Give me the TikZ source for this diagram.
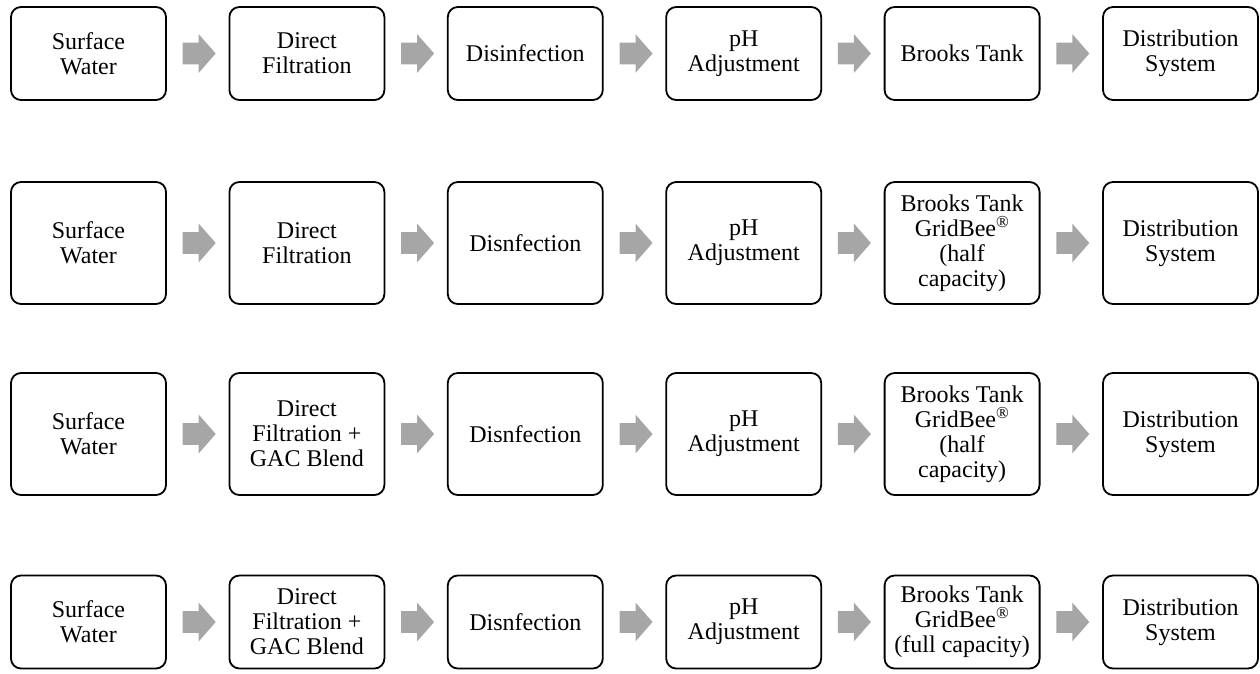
\documentclass[tikz,border=0pt]{standalone}
\usepackage{fontspec}
\setmainfont{Liberation Serif}
\usetikzlibrary{calc}
\definecolor{arrowgray}{HTML}{A6A6A6}
\begin{document}
\begin{tikzpicture}[x=1pt,y=-1pt,
  box/.style={draw=black, line width=1.8pt, rounded corners=10pt, minimum width=155pt,
    inner sep=0pt, align=center, font=\fontsize{24}{25}\selectfont},
  shortbox/.style={box, minimum height=93pt},
  tallbox/.style={box, minimum height=122pt},
  blockarrow/.style={fill=arrowgray, draw=none}]
\useasboundingbox (0,0) rectangle (1260,673);
% Row 1
\node[shortbox] (r1a) at (88.5,53.5)  {Surface\\Water};
\node[shortbox] (r1b) at (306.9,53.5) {Direct\\Filtration};
\node[shortbox] (r1c) at (525.3,53.5) {Disinfection};
\node[shortbox] (r1d) at (743.7,53.5) {pH\\Adjustment};
\node[shortbox] (r1e) at (962.1,53.5) {Brooks Tank};
\node[shortbox] (r1f) at (1180.5,53.5) {Distribution\\System};
% Row 2
\node[tallbox] (r2a) at (88.5,243)  {Surface\\Water};
\node[tallbox] (r2b) at (306.9,243) {Direct\\Filtration};
\node[tallbox] (r2c) at (525.3,243) {Disnfection};
\node[tallbox] (r2d) at (743.7,243) {pH\\Adjustment};
\node[tallbox] (r2e) at (962.1,243) {Brooks Tank\\GridBee\textsuperscript{®}\\(half\\capacity)};
\node[tallbox] (r2f) at (1180.5,243) {Distribution\\System};
% Row 3
\node[tallbox] (r3a) at (88.5,434)  {Surface\\Water};
\node[tallbox] (r3b) at (306.9,434) {Direct\\Filtration +\\GAC Blend};
\node[tallbox] (r3c) at (525.3,434) {Disnfection};
\node[tallbox] (r3d) at (743.7,434) {pH\\Adjustment};
\node[tallbox] (r3e) at (962.1,434) {Brooks Tank\\GridBee\textsuperscript{®}\\(half\\capacity)};
\node[tallbox] (r3f) at (1180.5,434) {Distribution\\System};
% Row 4
\node[shortbox] (r4a) at (88.5,622)  {Surface\\Water};
\node[shortbox] (r4b) at (306.9,622) {Direct\\Filtration +\\GAC Blend};
\node[shortbox] (r4c) at (525.3,622) {Disnfection};
\node[shortbox] (r4d) at (743.7,622) {pH\\Adjustment};
\node[shortbox] (r4e) at (962.1,622) {Brooks Tank\\GridBee\textsuperscript{®}\\(full capacity)};
\node[shortbox] (r4f) at (1180.5,622) {Distribution\\System};
% Block arrows
\foreach \r in {1,2,3,4}{
  \foreach \p/\q [count=\i] in {a/b,b/c,c/d,d/e,e/f}{
    \coordinate (m\r\i) at ($(r\r\p.east)!0.5!(r\r\q.west)+(1.5,0)$);
    \fill[blockarrow, shift={(m\r\i)}] (-16.5,-10.8) -- (-0.5,-10.8) -- (-0.5,-19.4)
      -- (16.5,0) -- (-0.5,19.4) -- (-0.5,10.8) -- (-16.5,10.8) -- cycle;
  }
}
\end{tikzpicture}
\end{document}
